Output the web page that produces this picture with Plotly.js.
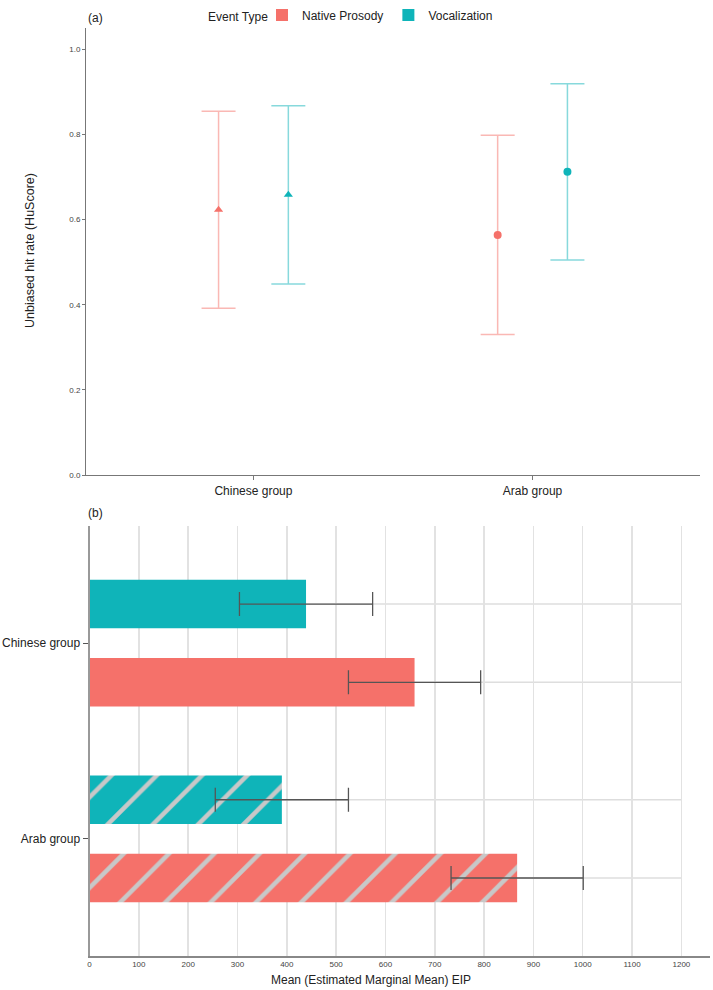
<!DOCTYPE html>
<html>
<head>
<meta charset="utf-8">
<script src="https://cdn.plot.ly/plotly-3.0.1.min.js"></script>
<style>html,body{margin:0;padding:0;background:#fff;}#chart{width:713px;height:990px;}</style>
</head>
<body>
<div id="chart"></div>
<script>
// ---- data ----
const categories = ['Chinese group', 'Arab group'];
const eventTypes = ['Native Prosody', 'Vocalization'];
const legendTitle = 'Event Type';
const groupSymbols = ['triangle-up', 'circle'];
const barPatterns = ['', '/'];

// (a) unbiased hit rate (HuScore): means and half-widths of the error bars
const huNative = [0.623, 0.564];
const huNativeErr = [0.231, 0.234];
const huVoc = [0.658, 0.712];
const huVocErr = [0.209, 0.207];
const huTicks = [0, 0.2, 0.4, 0.6, 0.8, 1.0];

// (b) estimated marginal mean EIP and error half-widths
const eipNative = [659, 867];
const eipNativeErr = [134, 134];
const eipVoc = [439, 390];
const eipVocErr = [135, 135];
const eipTicks = [0, 100, 200, 300, 400, 500, 600, 700, 800, 900, 1000, 1100, 1200];

// ---- styles ----
const RED = '#F5716A', TEAL = '#0FB4B9';
const RED_LIGHT = 'rgba(245,113,106,0.5)', TEAL_LIGHT = 'rgba(15,180,185,0.5)';
const FONT = 'Liberation Sans, Arial, sans-serif';
const W = 713, H = 990;
const px = v => v / W, py = v => (H - v) / H;

const dodge = 0.125;
const catIdx = categories.map((c, i) => i);

const traces = [
  {
    type: 'scatter', mode: 'markers', name: eventTypes[0], showlegend: false,
    x: catIdx.map(i => i - dodge), y: huNative,
    marker: {color: RED, size: 8, symbol: groupSymbols},
    error_y: {type: 'data', array: huNativeErr, color: RED_LIGHT, thickness: 1.5, width: 17},
    xaxis: 'x', yaxis: 'y'
  },
  {
    type: 'scatter', mode: 'markers', name: eventTypes[1], showlegend: false,
    x: catIdx.map(i => i + dodge), y: huVoc,
    marker: {color: TEAL, size: 8, symbol: groupSymbols},
    error_y: {type: 'data', array: huVocErr, color: TEAL_LIGHT, thickness: 1.5, width: 17},
    xaxis: 'x', yaxis: 'y'
  },
  {
    type: 'bar', orientation: 'h', name: eventTypes[1], legendrank: 2,
    y: categories, x: eipVoc,
    marker: {color: TEAL, line: {width: 0},
      pattern: {shape: barPatterns, fgcolor: '#c8c8c8', bgcolor: TEAL, size: 32, solidity: 0.14, fillmode: 'replace'}},
    error_x: {type: 'data', array: eipVocErr, color: '#555', thickness: 1.3, width: 12},
    xaxis: 'x2', yaxis: 'y2'
  },
  {
    type: 'bar', orientation: 'h', name: eventTypes[0], legendrank: 1,
    y: categories, x: eipNative,
    marker: {color: RED, line: {width: 0},
      pattern: {shape: barPatterns, fgcolor: '#c8c8c8', bgcolor: RED, size: 32, solidity: 0.14, fillmode: 'replace'}},
    error_x: {type: 'data', array: eipNativeErr, color: '#555', thickness: 1.3, width: 12},
    xaxis: 'x2', yaxis: 'y2'
  }
];

// light horizontal guide lines through bar centres in panel (b)
const barOffsets = [-0.2, 0.2];
const shapes = [];
catIdx.forEach(i => barOffsets.forEach(o => shapes.push({
  type: 'line', xref: 'x2', yref: 'y2', layer: 'below',
  x0: eipTicks[0], x1: eipTicks[eipTicks.length - 1], y0: i + o, y1: i + o,
  line: {color: '#dedede', width: 1.5}
})));

const layout = {
  width: W, height: H,
  margin: {l: 0, r: 0, t: 0, b: 0},
  paper_bgcolor: '#fff', plot_bgcolor: '#fff',
  font: {family: FONT, color: '#222'},
  barmode: 'group', bargap: 0.2, bargroupgap: 0.38,
  showlegend: true,
  legend: {
    orientation: 'h', x: px(262), xanchor: 'left', y: py(7), yanchor: 'middle',
    font: {size: 12, color: '#222'}, itemwidth: 30, bgcolor: 'rgba(0,0,0,0)'
  },
  xaxis: {
    domain: [px(86), px(700)], anchor: 'y', range: [-0.6, 1.6],
    tickvals: catIdx, ticktext: categories,
    showline: true, linecolor: '#777', linewidth: 1,
    ticks: 'outside', ticklen: 4, tickcolor: '#777',
    showgrid: false, zeroline: false,
    tickfont: {size: 12, color: '#222'}
  },
  yaxis: {
    domain: [py(471), py(20)], anchor: 'x', range: [0, 1.05],
    tickvals: huTicks, tickformat: '.1f',
    showline: true, linecolor: '#777', linewidth: 1,
    ticks: 'outside', ticklen: 3, tickcolor: '#777',
    showgrid: false, zeroline: false,
    tickfont: {size: 8, color: '#444'}
  },
  xaxis2: {
    domain: [px(89.5), px(710)], anchor: 'y2', range: [0, 1258],
    tickvals: eipTicks,
    showline: true, linecolor: '#888', linewidth: 1.5,
    ticks: '', showgrid: true, gridcolor: '#e2e2e2', gridwidth: 1.5,
    zeroline: false, tickfont: {size: 8, color: '#444'}
  },
  yaxis2: {
    domain: [py(956), py(522)], anchor: 'x2', type: 'category',
    autorange: false, range: [1.6, -0.6],
    showline: true, linecolor: '#999', linewidth: 2,
    ticks: 'outside', ticklen: 5, tickcolor: '#555',
    showgrid: false, zeroline: false,
    tickfont: {size: 12, color: '#222'}
  },
  shapes: shapes,
  annotations: [
    {text: legendTitle, xref: 'paper', yref: 'paper', x: px(206), y: py(9), xanchor: 'left', yanchor: 'middle', showarrow: false, font: {size: 12, color: '#222'}},
    {text: '(a)', xref: 'paper', yref: 'paper', x: px(86), y: py(10), xanchor: 'left', yanchor: 'middle', showarrow: false, font: {size: 12, color: '#222'}},
    {text: '(b)', xref: 'paper', yref: 'paper', x: px(86), y: py(509), xanchor: 'left', yanchor: 'middle', showarrow: false, font: {size: 12, color: '#222'}},
    {text: 'Unbiased hit rate (HuScore)', xref: 'paper', yref: 'paper', x: px(30), y: py(245), textangle: -90, xanchor: 'center', yanchor: 'middle', showarrow: false, font: {size: 12.5, color: '#222'}},
    {text: 'Mean (Estimated Marginal Mean) EIP', xref: 'paper', yref: 'paper', x: px(371), y: py(980), xanchor: 'center', yanchor: 'middle', showarrow: false, font: {size: 12, color: '#222'}}
  ]
};

Plotly.newPlot('chart', traces, layout, {displayModeBar: false, staticPlot: true});
</script>
</body>
</html>
